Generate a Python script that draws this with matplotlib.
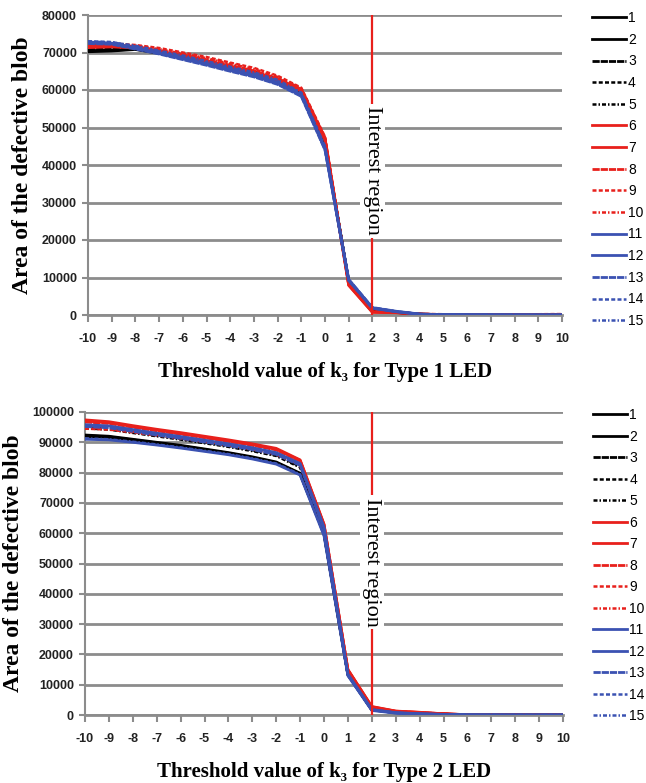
import matplotlib
matplotlib.use("Agg")
import matplotlib.pyplot as plt

plt.rcParams["axes.unicode_minus"] = False

k3 = list(range(-10, 11))
labels = [str(i) for i in range(1, 16)]

type1 = [
    [70200, 70400, 70800, 69800, 68500, 67200, 65800, 64300, 62300, 59600, 45500, 8800, 1300, 700, 200, 100, 80, 60, 40, 30, 20],
    [70500, 70600, 70900, 69900, 68700, 67300, 65900, 64400, 62400, 59700, 45800, 8900, 1400, 700, 200, 100, 70, 50, 40, 30, 20],
    [71000, 71200, 71000, 70000, 68800, 67500, 66000, 64600, 62600, 59800, 46000, 9000, 1500, 750, 220, 110, 80, 60, 40, 30, 20],
    [72000, 71900, 71300, 70300, 69100, 67800, 66300, 64900, 62900, 60000, 46300, 9100, 1500, 800, 230, 120, 80, 60, 40, 30, 20],
    [71500, 71600, 71200, 70200, 69000, 67700, 66200, 64800, 62800, 59900, 46100, 9000, 1400, 750, 220, 110, 80, 60, 40, 30, 20],
    [71300, 71500, 71200, 70100, 68800, 67500, 66000, 64500, 62500, 59700, 46500, 7900, 700, 600, 200, 100, 80, 60, 50, 40, 30],
    [71800, 71900, 71400, 70400, 69100, 67800, 66300, 64800, 62800, 60000, 47000, 8000, 800, 650, 220, 110, 80, 60, 50, 40, 30],
    [72200, 72100, 71600, 70600, 69400, 68100, 66600, 65100, 63100, 60200, 47300, 8200, 900, 700, 230, 120, 90, 70, 50, 40, 30],
    [72500, 72400, 72000, 71200, 70000, 68800, 67300, 65900, 63800, 60600, 47500, 8400, 1000, 800, 300, 200, 150, 150, 150, 200, 250],
    [72300, 72200, 71800, 70900, 69700, 68500, 67000, 65600, 63500, 60400, 47200, 8300, 900, 750, 250, 150, 100, 100, 100, 150, 200],
    [72800, 72500, 71200, 69900, 68500, 67000, 65500, 64000, 62000, 58800, 44500, 9200, 1800, 900, 200, 80, 50, 30, 20, 10, 10],
    [72600, 72400, 71100, 69800, 68300, 66800, 65200, 63700, 61700, 58500, 44200, 9400, 1900, 900, 200, 80, 50, 30, 20, 10, 10],
    [72400, 72200, 70900, 69600, 68100, 66600, 65000, 63500, 61500, 58300, 44000, 9500, 2000, 1000, 250, 90, 50, 30, 20, 10, 10],
    [73000, 72800, 71600, 70300, 68900, 67400, 65900, 64400, 62400, 59100, 44800, 9300, 1900, 950, 220, 90, 60, 40, 20, 10, 10],
    [72900, 72700, 71800, 70500, 69200, 67700, 66200, 64700, 62700, 59300, 45000, 9200, 1800, 900, 210, 90, 60, 40, 20, 10, 10],
]

type2 = [
    [92400, 92000, 91000, 90000, 89000, 87800, 86600, 85200, 83500, 79800, 60000, 13500, 1800, 900, 500, 300, 50, 20, 10, 0, 0],
    [92000, 91600, 90700, 89700, 88700, 87500, 86300, 84900, 83200, 79500, 59800, 13300, 1700, 850, 500, 250, 50, 20, 10, 0, 0],
    [92200, 91800, 90800, 89800, 88800, 87600, 86400, 85000, 83300, 79600, 59900, 13400, 1750, 880, 500, 280, 50, 20, 10, 0, 0],
    [95000, 94500, 93400, 92300, 91200, 90000, 88800, 87400, 85800, 82000, 61000, 14000, 2000, 1000, 600, 300, 60, 20, 10, 0, 0],
    [94600, 94200, 93100, 92000, 90900, 89700, 88500, 87100, 85500, 81700, 60800, 13900, 1950, 1000, 580, 300, 60, 20, 10, 0, 0],
    [97400, 96800, 95500, 94300, 93200, 92000, 90800, 89500, 88000, 84200, 63000, 15000, 2800, 1300, 900, 400, 100, 20, 10, 0, 0],
    [97000, 96500, 95200, 94000, 92900, 91700, 90500, 89200, 87700, 84000, 62800, 14900, 2700, 1250, 850, 400, 100, 20, 10, 0, 0],
    [96700, 96200, 95000, 93800, 92700, 91500, 90300, 89000, 87500, 83800, 62600, 14800, 2600, 1200, 800, 380, 100, 20, 10, 0, 0],
    [94500, 94200, 93300, 92300, 91300, 90200, 89000, 87700, 86000, 82500, 61500, 14500, 2400, 1100, 700, 350, 80, 20, 10, 0, 0],
    [94800, 94400, 93500, 92500, 91500, 90400, 89200, 87900, 86300, 82800, 61800, 14600, 2500, 1150, 750, 360, 90, 20, 10, 0, 0],
    [95800, 95400, 94200, 93000, 91900, 90700, 89500, 88200, 86600, 83000, 62000, 13500, 1800, 800, 400, 200, 50, 10, 0, 0, 0],
    [91000, 90800, 90000, 89100, 88100, 87000, 85900, 84500, 82800, 79200, 59200, 13000, 1500, 600, 300, 150, 40, 10, 0, 0, 0],
    [95200, 94800, 93600, 92400, 91300, 90100, 88900, 87600, 86000, 82400, 61400, 13200, 1700, 700, 350, 180, 50, 10, 0, 0, 0],
    [95500, 95100, 93900, 92700, 91600, 90400, 89200, 87900, 86300, 82700, 61700, 13300, 1700, 750, 380, 200, 50, 10, 0, 0, 0],
    [91300, 91000, 90200, 89300, 88300, 87200, 86100, 84700, 83000, 79400, 59400, 13100, 1600, 650, 320, 160, 40, 10, 0, 0, 0],
]

BLACK = "#000000"
RED = "#E8201C"
BLUE = "#3B52B2"
GRID = "#8C8C8C"
colors = [BLACK] * 5 + [RED] * 5 + [BLUE] * 5
styles = ["-", "-", (0, (2.6, 0.35)), (0, (1.6, 0.9)), (0, (1.6, 0.8, 0.6, 0.8))] * 3
widths = [2.0, 2.0, 2.0, 1.8, 1.8] * 3

serif = ["Liberation Serif", "DejaVu Serif"]
tickfont = ["Liberation Sans Narrow", "Liberation Sans", "DejaVu Sans"]

fig = plt.figure(figsize=(6.46, 7.83), dpi=100)
W, H = 646, 783


def make_axes(box, data, ymax, ystep, xlabel, text_y, leg_y, leg_sp):
    l, t, r, b = box
    ax = fig.add_axes([l / W, 1 - b / H, (r - l) / W, (b - t) / H])
    handles = []
    for i in range(15):
        ln, = ax.plot(k3, data[i], color=colors[i], linestyle=styles[i],
                      lw=widths[i], zorder=3, label=labels[i])
        handles.append(ln)
    ax.set_xlim(-10, 10)
    ax.set_ylim(0, ymax)
    ax.set_xticks(k3)
    ax.set_yticks(list(range(0, ymax + 1, ystep)))
    ax.yaxis.grid(True, color=GRID, lw=2.0, zorder=0)
    ax.set_axisbelow(True)
    for s in ["top", "right"]:
        ax.spines[s].set_visible(False)
    ax.spines["left"].set_color(GRID)
    ax.spines["left"].set_linewidth(1.5)
    ax.spines["bottom"].set_color(GRID)
    ax.spines["bottom"].set_linewidth(2.0)
    ax.tick_params(axis="x", direction="out", length=5, width=1.5, color=GRID, pad=8)
    ax.tick_params(axis="y", direction="out", length=4, width=1.5, color=GRID, pad=4)
    for lab in ax.get_xticklabels() + ax.get_yticklabels():
        lab.set_fontfamily(tickfont)
        lab.set_fontsize(9)
        lab.set_fontweight("bold")
        lab.set_color("#222222")
    ax.axvline(2, color=RED, lw=1.6, zorder=4)
    ax.text(2, text_y, "Interest region", rotation=270, ha="center", va="center",
            family=serif, fontsize=16, zorder=5,
            bbox=dict(facecolor="white", edgecolor="none", pad=2))
    ax.set_xlabel(xlabel, family=serif, fontsize=15, fontweight="bold", labelpad=12)
    ax.set_ylabel("Area of the defective blob", family=serif, fontsize=17,
                  fontweight="bold", labelpad=6)
    leg = ax.legend(handles=handles, loc="upper left", bbox_to_anchor=(1.063, leg_y),
                    frameon=False, fontsize=10, handlelength=2.45, handletextpad=0.15,
                    labelspacing=leg_sp, borderaxespad=0, borderpad=0)
    for t_ in leg.get_texts():
        t_.set_fontfamily(tickfont)
    return ax


make_axes((88, 15, 562, 315), type1, 80000, 10000,
          "Threshold value of k\u2083 for Type 1 LED", 38500, 1.013, 0.55)
make_axes((85, 412, 563, 715), type2, 100000, 10000,
          "Threshold value of k\u2083 for Type 2 LED", 50500, 1.013, 0.54)

fig.savefig("out.png", dpi=100)
